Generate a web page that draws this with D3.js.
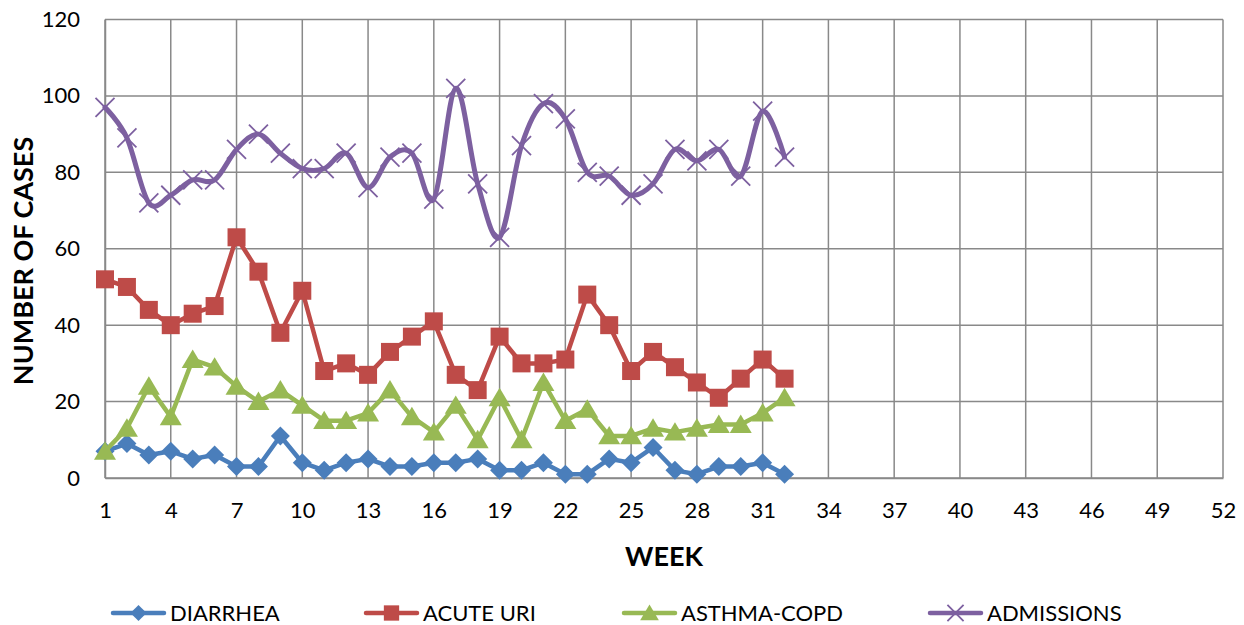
<!DOCTYPE html>
<html>
<head>
<meta charset="utf-8">
<script src="https://cdn.jsdelivr.net/npm/d3@7"></script>
<style>
  body { margin: 0; background: #fff; }
  svg text { font-family: Lato, "Liberation Sans", sans-serif; fill: #000; }
</style>
</head>
<body>
<figure id="weekly" style="margin:0"></figure>
<script>
const weeks = d3.range(1, 33);
const xTicks = d3.range(1, 53, 3);
const yTicks = [0, 20, 40, 60, 80, 100, 120];

const diarrhea = [7, 9, 6, 7, 5, 6, 3, 3, 11, 4, 2, 4, 5, 3, 3, 4, 4, 5, 2, 2, 4, 1, 1, 5, 4, 8, 2, 1, 3, 3, 4, 1];
const acuteUri = [52, 50, 44, 40, 43, 45, 63, 54, 38, 49, 28, 30, 27, 33, 37, 41, 27, 23, 37, 30, 30, 31, 48, 40, 28, 33, 29, 25, 21, 26, 31, 26];
const asthmaCopd = [7, 13, 24, 16, 31, 29, 24, 20, 23, 19, 15, 15, 17, 23, 16, 12, 19, 10, 21, 10, 25, 15, 18, 11, 11, 13, 12, 13, 14, 14, 17, 21];
const admissions = [97, 89, 72, 74, 78, 78, 86, 90, 85, 81, 81, 85, 76, 84, 85, 73, 102, 77, 63, 87, 98, 94, 80, 79, 74, 77, 86, 83, 86, 79, 96, 84];

const series = [
  { name: "DIARRHEA", values: diarrhea, color: "#4A7EBB", marker: "diamond", smooth: false },
  { name: "ACUTE URI", values: acuteUri, color: "#BE4B48", marker: "square", smooth: false },
  { name: "ASTHMA-COPD", values: asthmaCopd, color: "#98B954", marker: "triangle", smooth: false },
  { name: "ADMISSIONS", values: admissions, color: "#7D60A0", marker: "x", smooth: true }
];

const width = 1244, height = 625;
const margin = { top: 19.5, right: 21, bottom: 147, left: 105 };
const grid = "#898989";

const svg = d3.select("figure#weekly")
  .append("svg")
  .attr("width", width)
  .attr("height", height)
  .attr("viewBox", "0 0 " + width + " " + height);

const x = d3.scaleLinear()
  .domain([1, 52])
  .range([margin.left, width - margin.right]);

const y = d3.scaleLinear()
  .domain([0, 120])
  .range([height - margin.bottom, margin.top]);

// grid
svg.append("g")
  .selectAll("line")
  .data(yTicks)
  .join("line")
  .attr("x1", x(1)).attr("x2", x(52))
  .attr("y1", d => y(d)).attr("y2", d => y(d))
  .attr("stroke", grid).attr("stroke-width", 1.5);

svg.append("g")
  .selectAll("line")
  .data(xTicks)
  .join("line")
  .attr("x1", d => x(d)).attr("x2", d => x(d))
  .attr("y1", y(0)).attr("y2", y(120))
  .attr("stroke", grid).attr("stroke-width", 1.5);

// axes (labels only, Excel style)
const xAxis = d3.axisBottom(x).tickValues(xTicks).tickSize(0).tickPadding(24);
svg.append("g")
  .attr("transform", "translate(0," + y(0) + ")")
  .call(xAxis)
  .call(g => g.select(".domain").attr("stroke", grid).attr("stroke-width", 1.5))
  .selectAll("text")
  .style("font-family", "Lato")
  .style("font-size", "22px");

const yAxis = d3.axisLeft(y).tickValues(yTicks).tickSize(0).tickPadding(25);
svg.append("g")
  .attr("transform", "translate(" + x(1) + ",0)")
  .call(yAxis)
  .call(g => g.select(".domain").attr("stroke", grid).attr("stroke-width", 1.5))
  .selectAll("text")
  .style("font-family", "Lato")
  .style("font-size", "22px");

// axis titles
svg.append("text")
  .attr("x", (x(1) + x(52)) / 2)
  .attr("y", 566)
  .attr("text-anchor", "middle")
  .style("font-weight", "bold")
  .style("font-size", "27px")
  .text("WEEK");

svg.append("text")
  .attr("transform", "translate(33,261) rotate(-90)")
  .attr("text-anchor", "middle")
  .style("font-weight", "bold")
  .style("font-size", "27px")
  .text("NUMBER OF CASES");

function drawMarker(g, type, color, s) {
  if (type === "diamond") {
    g.append("path").attr("d", `M0,${-s / 2}L${s / 2},0L0,${s / 2}L${-s / 2},0Z`).attr("fill", color);
  } else if (type === "square") {
    g.append("rect").attr("x", -s / 2).attr("y", -s / 2).attr("width", s).attr("height", s).attr("fill", color);
  } else if (type === "triangle") {
    g.append("path").attr("d", `M0,${-s * 0.5}L${s * 0.55},${s * 0.42}L${-s * 0.55},${s * 0.42}Z`).attr("fill", color);
  } else {
    const h = s / 2;
    g.append("path").attr("d", `M${-h},${-h}L${h},${h}M${-h},${h}L${h},${-h}`)
      .attr("stroke", color).attr("stroke-width", 1.8).attr("fill", "none");
  }
}

const markerSize = { diamond: 19, square: 18, triangle: 20, x: 19 };

series.forEach(s => {
  const line = d3.line()
    .x((d, i) => x(weeks[i]))
    .y(d => y(d))
    .curve(s.smooth ? d3.curveCardinal.tension(0) : d3.curveLinear);

  const g = svg.append("g");
  g.append("path")
    .datum(s.values)
    .attr("d", line)
    .attr("fill", "none")
    .attr("stroke", s.color)
    .attr("stroke-width", s.smooth ? 5 : 4.5)
    .attr("stroke-linejoin", "round")
    .attr("stroke-linecap", "round");

  s.values.forEach((v, i) => {
    const m = g.append("g").attr("transform", `translate(${x(weeks[i])},${y(v)})`);
    drawMarker(m, s.marker, s.color, markerSize[s.marker]);
  });
});

// legend
const legendX = [111, 364, 622, 928];
const legend = svg.append("g");
series.forEach((s, i) => {
  const g = legend.append("g").attr("transform", `translate(${legendX[i]},613)`);
  g.append("line")
    .attr("x1", 2).attr("x2", 53)
    .attr("stroke", s.color).attr("stroke-width", 4.5).attr("stroke-linecap", "round");
  const m = g.append("g").attr("transform", "translate(27.5,0)");
  drawMarker(m, s.marker, s.color, markerSize[s.marker] * 0.85);
  g.append("text")
    .attr("x", 59)
    .attr("dy", "0.36em")
    .style("font-size", "22px")
    .text(s.name);
});
</script>
</body>
</html>
